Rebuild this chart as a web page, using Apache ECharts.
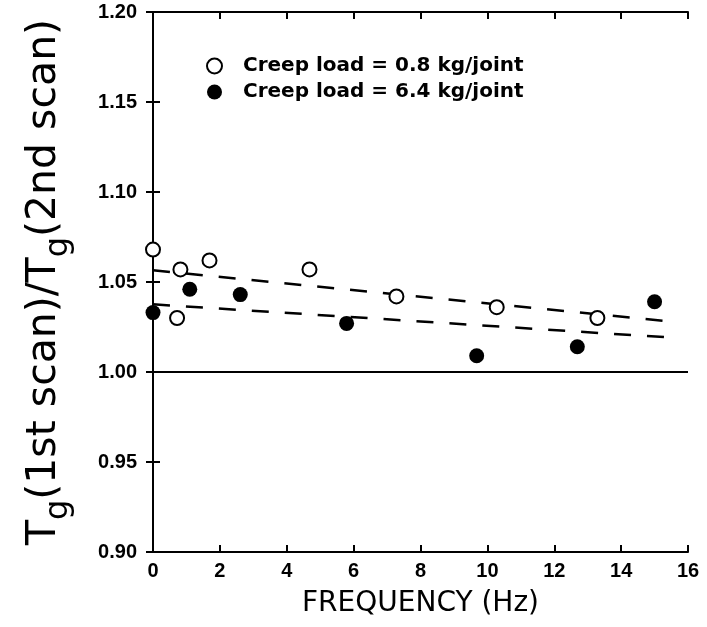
<!DOCTYPE html>
<html>
<head>
<meta charset="utf-8">
<script src="https://cdn.jsdelivr.net/npm/echarts@6/dist/echarts.min.js"></script>
<style>html,body{margin:0;padding:0;background:#fff;}#c{width:707px;height:627px;}</style>
</head>
<body>
<div id="c"></div>
<script>
// Data
var lowFreq  = [0, 0.72, 0.82, 1.69, 4.68, 7.28, 10.28, 13.29];
var lowRatio = [1.068, 1.030, 1.057, 1.062, 1.057, 1.042, 1.036, 1.030];
var highFreq  = [0, 1.10, 2.61, 5.79, 9.68, 12.69, 15.0];
var highRatio = [1.033, 1.046, 1.043, 1.027, 1.009, 1.014, 1.039];
// dashed trend lines (endpoints)
var lowFitX = [0, 15.6];
var lowFitY = [1.0565, 1.0278];
var highFitX = [0, 15.6];
var highFitY = [1.0376, 1.0190];
// reference line
var refX = [0, 16];
var refY = [1.00, 1.00];
var legendNames = ['Creep load = 0.8 kg/joint', 'Creep load = 6.4 kg/joint'];
var xTitle = 'FREQUENCY (Hz)';
var yTitle = 'T{s|g}(1st scan)/T{s|g}(2nd scan)';

function pairs(xs, ys) { return xs.map(function (x, i) { return [x, ys[i]]; }); }

var chart = echarts.init(document.getElementById('c'), null, {renderer: 'canvas'});
var axisCommon = {
  axisLine: {show: true, lineStyle: {color: '#000', width: 2}},
  axisTick: {show: true, inside: true, length: 7, lineStyle: {color: '#000', width: 2}},
  splitLine: {show: false}
};
var labelFont = {color: '#000', fontFamily: 'Liberation Sans, Arial, sans-serif', fontWeight: 'bold', fontSize: 20};
var titleFamily = 'DejaVu Sans, sans-serif';

chart.setOption({
  animation: false,
  backgroundColor: '#fff',
  grid: {left: 153, right: 19, top: 12, bottom: 75},
  legend: {
    orient: 'vertical', left: 201, top: 51, itemGap: 6,
    itemWidth: 15, itemHeight: 15,
    textStyle: {color: '#000', fontFamily: titleFamily, fontWeight: 'bold', fontSize: 20, padding: [0, 0, 0, 16]},
    data: [
      {name: legendNames[0], icon: 'circle', itemStyle: {color: '#fff', borderColor: '#000', borderWidth: 2}},
      {name: legendNames[1], icon: 'circle', itemStyle: {color: '#000'}}
    ]
  },
  xAxis: [
    Object.assign({
      type: 'value', min: 0, max: 16, interval: 2, position: 'bottom',
      axisLabel: Object.assign({margin: 9}, labelFont),
      name: xTitle, nameLocation: 'middle', nameGap: 38,
      nameTextStyle: {color: '#000', fontFamily: titleFamily, fontSize: 28}
    }, axisCommon),
    Object.assign({
      type: 'value', min: 0, max: 16, interval: 2, position: 'top',
      axisLabel: {show: false}
    }, axisCommon)
  ],
  yAxis: [
    Object.assign({
      type: 'value', min: 0.9, max: 1.2, interval: 0.05, position: 'left',
      axisLabel: Object.assign({margin: 16, formatter: function (v) { return v.toFixed(2); }}, labelFont),
      name: yTitle, nameLocation: 'middle', nameGap: 86, nameRotate: 90,
      nameTextStyle: {
        color: '#000', fontFamily: titleFamily, fontSize: 41, lineHeight: 46,
        rich: {s: {fontSize: 32, fontFamily: titleFamily, color: '#000', verticalAlign: 'bottom', lineHeight: 46, padding: [0, 0, -8, 0]}}
      }
    }, axisCommon),
    Object.assign({
      type: 'value', min: 0.9, max: 1.2, interval: 0.05, position: 'right',
      axisLabel: {show: false}
    }, axisCommon)
  ],
  series: [
    {type: 'line', data: pairs(refX, refY), symbol: 'none', silent: true,
     lineStyle: {color: '#000', width: 2}},
    {type: 'line', data: pairs(lowFitX, lowFitY), symbol: 'none', silent: true,
     lineStyle: {color: '#000', width: 2.5, type: [17, 16]}},
    {type: 'line', data: pairs(highFitX, highFitY), symbol: 'none', silent: true,
     lineStyle: {color: '#000', width: 2.5, type: [17, 16]}},
    {name: legendNames[0], type: 'scatter', data: pairs(lowFreq, lowRatio), symbol: 'circle', symbolSize: 14,
     itemStyle: {color: '#fff', borderColor: '#000', borderWidth: 2, opacity: 1}, z: 5},
    {name: legendNames[1], type: 'scatter', data: pairs(highFreq, highRatio), symbol: 'circle', symbolSize: 15,
     itemStyle: {color: '#000', opacity: 1}, z: 6}
  ]
});
</script>
</body>
</html>
